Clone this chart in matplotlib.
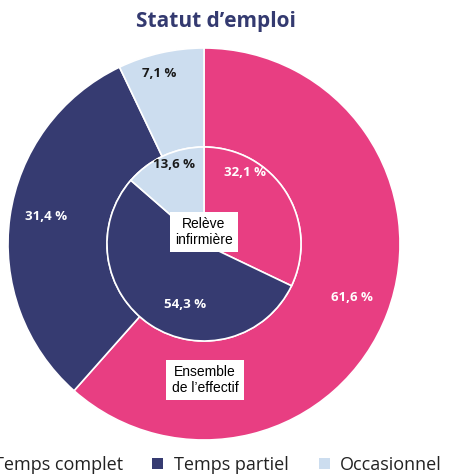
import matplotlib
matplotlib.use("Agg")
import matplotlib.pyplot as plt
import numpy as np

categories = ["Temps complet", "Temps partiel", "Occasionnel"]
outer_values = [61.6, 31.4, 7.1]   # Ensemble de l'effectif
inner_values = [32.1, 54.3, 13.6]  # Relève infirmière
outer_labels = ["61,6 %", "31,4 %", "7,1 %"]
inner_labels = ["32,1 %", "54,3 %", "13,6 %"]
colors = ["#E83E82", "#363B71", "#CCDDEF"]
text_colors = ["white", "white", "#1a1a1a"]

fig = plt.figure(figsize=(4.52, 4.75), dpi=100)
ax = fig.add_axes([0, 0, 1, 1])

r_in = 97 / 196
wedges_o, _ = ax.pie(outer_values, radius=1.0, colors=colors, startangle=90,
                     counterclock=False,
                     wedgeprops=dict(width=1.0 - r_in, edgecolor="white", linewidth=1.2))
wedges_i, _ = ax.pie(inner_values, radius=r_in, colors=colors, startangle=90,
                     counterclock=False,
                     wedgeprops=dict(edgecolor="white", linewidth=1.2))
ax.set_xlim(-204 / 196, (452 - 204) / 196)
ax.set_ylim(-231 / 196, 244 / 196)
ax.set_aspect("equal")
ax.axis("off")


def place(values, labels, radius_fracs, rad, angle_offsets):
    start = 90.0
    total = sum(values)
    for v, lab, rf, tc, off in zip(values, labels, radius_fracs, text_colors, angle_offsets):
        mid = start - v / total * 360 / 2 + off
        start -= v / total * 360
        x = rf * rad * np.cos(np.radians(mid))
        y = rf * rad * np.sin(np.radians(mid))
        ax.text(x, y, lab, ha="center", va="center", color=tc,
                fontsize=9.5, fontweight="bold", family=["Open Sans", "DejaVu Sans"])

place(outer_values, outer_labels, [0.80, 0.82, 0.90], 1.0, [1, -2, 2])
place(inner_values, inner_labels, [0.85, 0.65, 0.88], r_in, [28, 16, -4])

box = dict(boxstyle="square,pad=0.38", facecolor="white", edgecolor="none")
ax.text(0.0, 12 / 196, "Relève\ninfirmière", ha="center", va="center", fontsize=10,
        family="Liberation Sans", color="black", bbox=box, linespacing=1.15)
ax.text(0.005, -136 / 196, "Ensemble\nde l\u2019effectif", ha="center", va="center", fontsize=10,
        family="Liberation Sans", color="black", bbox=box, linespacing=1.15)

fig.text(216 / 452, 1 - 22 / 475, "Statut d\u2019emploi", ha="center", va="center",
         fontsize=15, fontweight="bold", color="#343A70", family=["Open Sans", "DejaVu Sans"])

leg = fig.legend(wedges_o, categories, loc="center", bbox_to_anchor=(207 / 452, 1 - 465 / 475),
                 ncol=3, frameon=False, handlelength=0.6, handleheight=0.6,
                 handletextpad=0.6, columnspacing=1.65, prop=dict(family="Open Sans", size=13))
for h in leg.legend_handles:
    h.set_edgecolor("none")
for t in leg.get_texts():
    t.set_color("#222222")

fig.savefig("out.png", dpi=100)
